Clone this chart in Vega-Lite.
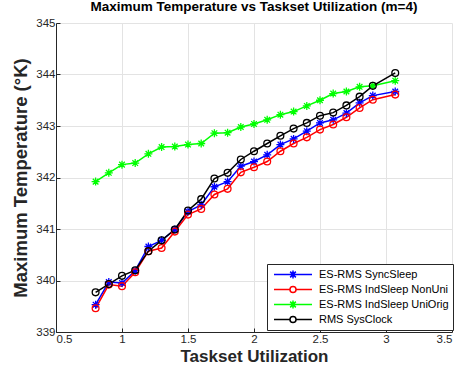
{
  "$schema": "https://vega.github.io/schema/vega-lite/v6.json",
  "width": 396,
  "height": 309,
  "autosize": {"type": "none"},
  "padding": {"left": 56, "top": 23, "right": 5, "bottom": 44},
  "background": "white",
  "title": {"text": "Maximum Temperature vs Taskset Utilization (m=4)", "fontSize": 13.5, "fontWeight": "bold", "color": "#000000", "offset": 4, "anchor": "middle"},
  "config": {
    "font": "Liberation Sans",
    "view": {"stroke": null},
    "axis": {"gridColor": "#e3e3e3", "gridOpacity": 1, "domainColor": "#262626", "tickColor": "#262626", "labelColor": "#262626", "labelFontSize": 11.5, "titleFontSize": 17, "titleFontWeight": "bold", "titleColor": "#262626", "tickSize": -4}
  },
  "data": {"values": [
    {"u":0.8,"t":339.53,"s":"ES-RMS SyncSleep"},{"u":0.9,"t":339.97,"s":"ES-RMS SyncSleep"},{"u":1.0,"t":339.95,"s":"ES-RMS SyncSleep"},{"u":1.1,"t":340.19,"s":"ES-RMS SyncSleep"},{"u":1.2,"t":340.66,"s":"ES-RMS SyncSleep"},{"u":1.3,"t":340.78,"s":"ES-RMS SyncSleep"},{"u":1.4,"t":340.99,"s":"ES-RMS SyncSleep"},{"u":1.5,"t":341.34,"s":"ES-RMS SyncSleep"},{"u":1.6,"t":341.47,"s":"ES-RMS SyncSleep"},{"u":1.7,"t":341.82,"s":"ES-RMS SyncSleep"},{"u":1.8,"t":341.92,"s":"ES-RMS SyncSleep"},{"u":1.9,"t":342.22,"s":"ES-RMS SyncSleep"},{"u":2.0,"t":342.31,"s":"ES-RMS SyncSleep"},{"u":2.1,"t":342.44,"s":"ES-RMS SyncSleep"},{"u":2.2,"t":342.64,"s":"ES-RMS SyncSleep"},{"u":2.3,"t":342.75,"s":"ES-RMS SyncSleep"},{"u":2.4,"t":342.90,"s":"ES-RMS SyncSleep"},{"u":2.5,"t":343.06,"s":"ES-RMS SyncSleep"},{"u":2.6,"t":343.12,"s":"ES-RMS SyncSleep"},{"u":2.7,"t":343.25,"s":"ES-RMS SyncSleep"},{"u":2.8,"t":343.45,"s":"ES-RMS SyncSleep"},{"u":2.9,"t":343.59,"s":"ES-RMS SyncSleep"},{"u":3.07,"t":343.67,"s":"ES-RMS SyncSleep"},
    {"u":0.8,"t":339.46,"s":"ES-RMS IndSleep NonUni"},{"u":0.9,"t":339.92,"s":"ES-RMS IndSleep NonUni"},{"u":1.0,"t":339.89,"s":"ES-RMS IndSleep NonUni"},{"u":1.1,"t":340.16,"s":"ES-RMS IndSleep NonUni"},{"u":1.2,"t":340.57,"s":"ES-RMS IndSleep NonUni"},{"u":1.3,"t":340.63,"s":"ES-RMS IndSleep NonUni"},{"u":1.4,"t":340.95,"s":"ES-RMS IndSleep NonUni"},{"u":1.5,"t":341.28,"s":"ES-RMS IndSleep NonUni"},{"u":1.6,"t":341.39,"s":"ES-RMS IndSleep NonUni"},{"u":1.7,"t":341.67,"s":"ES-RMS IndSleep NonUni"},{"u":1.8,"t":341.78,"s":"ES-RMS IndSleep NonUni"},{"u":1.9,"t":342.10,"s":"ES-RMS IndSleep NonUni"},{"u":2.0,"t":342.20,"s":"ES-RMS IndSleep NonUni"},{"u":2.1,"t":342.31,"s":"ES-RMS IndSleep NonUni"},{"u":2.2,"t":342.51,"s":"ES-RMS IndSleep NonUni"},{"u":2.3,"t":342.66,"s":"ES-RMS IndSleep NonUni"},{"u":2.4,"t":342.78,"s":"ES-RMS IndSleep NonUni"},{"u":2.5,"t":342.93,"s":"ES-RMS IndSleep NonUni"},{"u":2.6,"t":343.03,"s":"ES-RMS IndSleep NonUni"},{"u":2.7,"t":343.17,"s":"ES-RMS IndSleep NonUni"},{"u":2.8,"t":343.35,"s":"ES-RMS IndSleep NonUni"},{"u":2.9,"t":343.51,"s":"ES-RMS IndSleep NonUni"},{"u":3.07,"t":343.61,"s":"ES-RMS IndSleep NonUni"},
    {"u":0.8,"t":341.92,"s":"ES-RMS IndSleep UniOrig"},{"u":0.9,"t":342.09,"s":"ES-RMS IndSleep UniOrig"},{"u":1.0,"t":342.25,"s":"ES-RMS IndSleep UniOrig"},{"u":1.1,"t":342.28,"s":"ES-RMS IndSleep UniOrig"},{"u":1.2,"t":342.46,"s":"ES-RMS IndSleep UniOrig"},{"u":1.3,"t":342.59,"s":"ES-RMS IndSleep UniOrig"},{"u":1.4,"t":342.60,"s":"ES-RMS IndSleep UniOrig"},{"u":1.5,"t":342.64,"s":"ES-RMS IndSleep UniOrig"},{"u":1.6,"t":342.66,"s":"ES-RMS IndSleep UniOrig"},{"u":1.7,"t":342.86,"s":"ES-RMS IndSleep UniOrig"},{"u":1.8,"t":342.87,"s":"ES-RMS IndSleep UniOrig"},{"u":1.9,"t":342.98,"s":"ES-RMS IndSleep UniOrig"},{"u":2.0,"t":343.04,"s":"ES-RMS IndSleep UniOrig"},{"u":2.1,"t":343.12,"s":"ES-RMS IndSleep UniOrig"},{"u":2.2,"t":343.22,"s":"ES-RMS IndSleep UniOrig"},{"u":2.3,"t":343.28,"s":"ES-RMS IndSleep UniOrig"},{"u":2.4,"t":343.39,"s":"ES-RMS IndSleep UniOrig"},{"u":2.5,"t":343.50,"s":"ES-RMS IndSleep UniOrig"},{"u":2.6,"t":343.63,"s":"ES-RMS IndSleep UniOrig"},{"u":2.7,"t":343.67,"s":"ES-RMS IndSleep UniOrig"},{"u":2.8,"t":343.76,"s":"ES-RMS IndSleep UniOrig"},{"u":2.9,"t":343.78,"s":"ES-RMS IndSleep UniOrig"},{"u":3.07,"t":343.88,"s":"ES-RMS IndSleep UniOrig"},
    {"u":0.8,"t":339.77,"s":"RMS SysClock"},{"u":0.9,"t":339.93,"s":"RMS SysClock"},{"u":1.0,"t":340.09,"s":"RMS SysClock"},{"u":1.1,"t":340.20,"s":"RMS SysClock"},{"u":1.2,"t":340.57,"s":"RMS SysClock"},{"u":1.3,"t":340.78,"s":"RMS SysClock"},{"u":1.4,"t":340.99,"s":"RMS SysClock"},{"u":1.5,"t":341.36,"s":"RMS SysClock"},{"u":1.6,"t":341.58,"s":"RMS SysClock"},{"u":1.7,"t":341.98,"s":"RMS SysClock"},{"u":1.8,"t":342.09,"s":"RMS SysClock"},{"u":1.9,"t":342.35,"s":"RMS SysClock"},{"u":2.0,"t":342.51,"s":"RMS SysClock"},{"u":2.1,"t":342.66,"s":"RMS SysClock"},{"u":2.2,"t":342.81,"s":"RMS SysClock"},{"u":2.3,"t":342.95,"s":"RMS SysClock"},{"u":2.4,"t":343.06,"s":"RMS SysClock"},{"u":2.5,"t":343.20,"s":"RMS SysClock"},{"u":2.6,"t":343.26,"s":"RMS SysClock"},{"u":2.7,"t":343.40,"s":"RMS SysClock"},{"u":2.8,"t":343.57,"s":"RMS SysClock"},{"u":2.9,"t":343.78,"s":"RMS SysClock"},{"u":3.07,"t":344.03,"s":"RMS SysClock"}
  ]},
  "encoding": {
    "x": {"field": "u", "type": "quantitative", "scale": {"domain": [0.5, 3.5], "nice": false, "zero": false},
          "axis": {"title": "Taskset Utilization", "values": [0.5, 1, 1.5, 2, 2.5, 3, 3.5], "format": "~g", "labelPadding": 5, "titlePadding": 4}},
    "y": {"field": "t", "type": "quantitative", "scale": {"domain": [339, 345], "nice": false, "zero": false},
          "axis": {"title": "Maximum Temperature (°K)", "titleFontSize": 18.5, "values": [339, 340, 341, 342, 343, 344, 345], "format": "d", "labelPadding": 5, "titlePadding": 5}},
    "color": {"field": "s", "type": "nominal",
              "scale": {"domain": ["ES-RMS SyncSleep", "ES-RMS IndSleep NonUni", "ES-RMS IndSleep UniOrig", "RMS SysClock"], "range": ["#0000ff", "#ff0000", "#00ff00", "#000000"]},
              "legend": {"title": null, "orient": "none", "legendX": 211, "legendY": 241, "direction": "vertical",
                         "strokeColor": "#262626", "fillColor": "white", "padding": 4, "labelFontSize": 11, "labelColor": "#000000",
                         "symbolSize": 1444, "clipHeight": 13, "rowPadding": 2, "symbolOffset": 2, "labelOffset": 6,
                         "symbolStrokeWidth": 1.5, "symbolFillColor": "transparent",
                         "encode": {"symbols": {"update": {
                           "shape": {"signal": "(indexof(datum.value,'NonUni')>=0 || indexof(datum.value,'SysClock')>=0) ? 'M-1,0L-0.16,0M0.16,0L1,0M-0.16,0C-0.16,-0.088,-0.088,-0.16,0,-0.16C0.088,-0.16,0.16,-0.088,0.16,0C0.16,0.088,0.088,0.16,0,0.16C-0.088,0.16,-0.16,0.088,-0.16,0Z' : 'M-1,0L1,0M0,-0.21L0,0.21M-0.15,-0.15L0.15,0.15M-0.15,0.15L0.15,-0.15'"},
                           "size": {"value": 1444},
                           "fill": {"value": "transparent"},
                           "strokeWidth": {"value": 1.5}
                         }}}}}
  },
  "layer": [
    {"mark": {"type": "line", "strokeWidth": 1.5}},
    {"transform": [{"filter": {"field": "s", "oneOf": ["ES-RMS SyncSleep", "ES-RMS IndSleep UniOrig"]}}],
     "mark": {"type": "point", "filled": false, "strokeWidth": 1.3, "size": 64, "opacity": 1, "shape": "M0,-1L0,1M-1,0L1,0M-0.7,-0.7L0.7,0.7M-0.7,0.7L0.7,-0.7"}},
    {"transform": [{"filter": {"field": "s", "oneOf": ["ES-RMS IndSleep NonUni", "RMS SysClock"]}}],
     "mark": {"type": "point", "filled": false, "strokeWidth": 1.3, "size": 64, "opacity": 1, "shape": "M-0.85,0A0.85,0.85 0 1 1 0.85,0A0.85,0.85 0 1 1 -0.85,0"}}
  ]
}
